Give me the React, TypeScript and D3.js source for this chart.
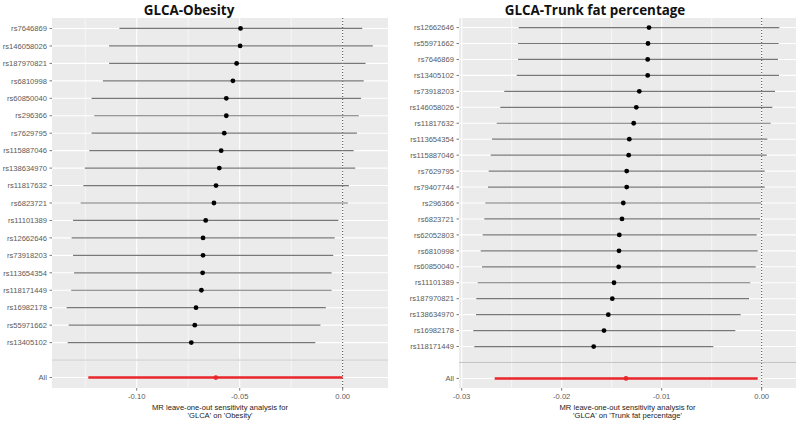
import React from "react";
import * as d3 from "d3";

// ---------- Data: left panel (GLCA-Obesity) ----------
const obesitySnps = [
  "rs7646869", "rs146058026", "rs187970821", "rs6810998", "rs60850040", "rs296366",
  "rs7629795", "rs115887046", "rs138634970", "rs11817632", "rs6823721", "rs11101389",
  "rs12662646", "rs73918203", "rs113654354", "rs118171449", "rs16982178", "rs55971662",
  "rs13405102",
];
const obesityB = [
  -0.0496, -0.0498, -0.0515, -0.0533, -0.0565, -0.0565, -0.0575, -0.0590, -0.0599, -0.0615,
  -0.0625, -0.0665, -0.0678, -0.0678, -0.0680, -0.0686, -0.0712, -0.0718, -0.0735,
];
const obesityLo = [
  -0.1084, -0.1134, -0.1134, -0.1164, -0.1219, -0.1206, -0.1219, -0.1230, -0.1252, -0.1259,
  -0.1272, -0.1309, -0.1316, -0.1309, -0.1304, -0.1318, -0.1340, -0.1330, -0.1335,
];
const obesityHi = [
  0.0095, 0.0146, 0.0111, 0.0102, 0.0089, 0.0078, 0.0069, 0.0053, 0.0061, 0.0030,
  0.0025, -0.0021, -0.0039, -0.0046, -0.0054, -0.0054, -0.0082, -0.0108, -0.0133,
];
const obesityAll = { b: -0.0616, lo: -0.1235, hi: 0.0 };
const obesityTicks = [-0.1, -0.05, 0.0];
const obesityTickLabels = ["-0.10", "-0.05", "0.00"];
const obesityMinor = [-0.125, -0.075, -0.025];

// ---------- Data: right panel (GLCA-Trunk fat percentage) ----------
const trunkSnps = [
  "rs12662646", "rs55971662", "rs7646869", "rs13405102", "rs73918203", "rs146058026",
  "rs11817632", "rs113654354", "rs115887046", "rs7629795", "rs79407744", "rs296366",
  "rs6823721", "rs62052803", "rs6810998", "rs60850040", "rs11101389", "rs187970821",
  "rs138634970", "rs16982178", "rs118171449",
];
const trunkB = [
  -0.01127, -0.01137, -0.0114, -0.0114, -0.01224, -0.01254, -0.0128, -0.01324, -0.0133,
  -0.0135, -0.0135, -0.01384, -0.01397, -0.01424, -0.01427, -0.0143, -0.01477, -0.01494,
  -0.01534, -0.01577, -0.0168,
];
const trunkLo = [
  -0.0243, -0.02437, -0.02437, -0.0245, -0.02574, -0.02614, -0.0265, -0.02697, -0.0271,
  -0.0273, -0.02737, -0.02764, -0.02774, -0.0279, -0.0281, -0.02797, -0.0284, -0.02854,
  -0.02857, -0.02884, -0.02874,
];
const trunkHi = [
  0.00176, 0.0017, 0.00163, 0.00173, 0.00133, 0.00106, 0.0009, 0.00056, 0.0005, 0.0003,
  0.0003, -0.00004, -0.00017, -0.0005, -0.0004, -0.0006, -0.00114, -0.00127, -0.0021,
  -0.00264, -0.00484,
];
const trunkAll = { b: -0.01357, lo: -0.0267, hi: -0.0004 };
const trunkTicks = [-0.03, -0.02, -0.01, 0.0];
const trunkTickLabels = ["-0.03", "-0.02", "-0.01", "0.00"];
const trunkMinor = [-0.025, -0.015, -0.005];

const BLANK = "__blank__";
const ALL = "All";

type PanelProps = {
  title: string;
  titleX: number;
  outcome: string;
  snps: string[];
  b: number[];
  lo: number[];
  hi: number[];
  all: { b: number; lo: number; hi: number };
  ticks: number[];
  tickLabels: string[];
  minor: number[];
  xDomain: [number, number];
  left: number;
  right: number;
};

const TOP = 18;
const BOTTOM = 388;
const FONT = "'Liberation Sans', Arial, sans-serif";
const LABEL_COLOR = "#5a5a5a";

function Panel(p: PanelProps) {
  const x = d3.scaleLinear().domain(p.xDomain).range([p.left, p.right]);
  const domain = [...p.snps, BLANK, ALL];
  const y = d3.scalePoint<string>().domain(domain).range([TOP, BOTTOM]).padding(0.6);
  const cx = (p.left + p.right) / 2;
  return (
    <g>
      <text
        x={p.titleX}
        y={15}
        textAnchor="middle"
        fontFamily="'Open Sans', sans-serif"
        fontWeight="bold"
        fontSize={13.4}
        fill="#111"
      >
        {p.title}
      </text>
      <rect x={p.left} y={TOP} width={p.right - p.left} height={BOTTOM - TOP} fill="#EBEBEB" />
      {p.minor.map((v) => (
        <line key={"mn" + v} x1={x(v)} x2={x(v)} y1={TOP} y2={BOTTOM} stroke="#fff" strokeWidth={0.6} />
      ))}
      {p.ticks.map((v) => (
        <line key={"mj" + v} x1={x(v)} x2={x(v)} y1={TOP} y2={BOTTOM} stroke="#fff" strokeWidth={1.1} />
      ))}
      {domain.map((d) => (
        <line key={"hg" + d} x1={p.left} x2={p.right} y1={y(d)} y2={y(d)} stroke="#fff" strokeWidth={1.1} />
      ))}
      <line x1={p.left} x2={p.right} y1={y(BLANK)} y2={y(BLANK)} stroke="#c4c4c4" strokeWidth={1} />
      <line x1={x(0)} x2={x(0)} y1={TOP} y2={BOTTOM} stroke="#333" strokeWidth={0.9} strokeDasharray="1,2" />
      {p.snps.map((s, i) => (
        <g key={"r" + s}>
          <line x1={x(p.lo[i])} x2={x(p.hi[i])} y1={y(s)} y2={y(s)} stroke="#777" strokeWidth={1.2} />
          <circle cx={x(p.b[i])} cy={y(s)} r={2.4} fill="#000" />
        </g>
      ))}
      <line x1={x(p.all.lo)} x2={x(p.all.hi)} y1={y(ALL)} y2={y(ALL)} stroke="#e8262b" strokeWidth={2.4} />
      <circle cx={x(p.all.b)} cy={y(ALL)} r={2.4} fill="#e8262b" />
      {domain.map((d) =>
        d === BLANK ? null : (
          <g key={"yl" + d}>
            <line x1={p.left - 2.5} x2={p.left} y1={y(d)} y2={y(d)} stroke="#555" strokeWidth={0.8} />
            <text
              x={p.left - 5}
              y={(y(d) as number) + 2.7}
              textAnchor="end"
              fontFamily={FONT}
              fontSize={7.6}
              fill={LABEL_COLOR}
            >
              {d}
            </text>
          </g>
        )
      )}
      {p.ticks.map((v, i) => (
        <g key={"xt" + v}>
          <line x1={x(v)} x2={x(v)} y1={BOTTOM} y2={BOTTOM + 2.7} stroke="#555" strokeWidth={0.8} />
          <text x={x(v)} y={398.5} textAnchor="middle" fontFamily={FONT} fontSize={7.6} fill={LABEL_COLOR}>
            {p.tickLabels[i]}
          </text>
        </g>
      ))}
      <text x={cx} y={409.5} textAnchor="middle" fontFamily={FONT} fontSize={7.6} fill="#222">
        MR leave-one-out sensitivity analysis for
      </text>
      <text x={cx} y={418} textAnchor="middle" fontFamily={FONT} fontSize={7.6} fill="#222">
        {"'GLCA' on '" + p.outcome + "'"}
      </text>
    </g>
  );
}

export default function App() {
  return (
    <svg
      width={800}
      height={421}
      viewBox="0 0 800 421"
      style={{ position: "absolute", left: 0, top: 0, background: "#fff" }}
    >
      <rect x={0} y={0} width={800} height={421} fill="#fff" />
      <Panel
        title="GLCA-Obesity"
        titleX={189}
        outcome="Obesity"
        snps={obesitySnps}
        b={obesityB}
        lo={obesityLo}
        hi={obesityHi}
        all={obesityAll}
        ticks={obesityTicks}
        tickLabels={obesityTickLabels}
        minor={obesityMinor}
        xDomain={[-0.14112, 0.02199]}
        left={52}
        right={388}
      />
      <Panel
        title="GLCA-Trunk fat percentage"
        titleX={595}
        outcome="Trunk fat percentage"
        snps={trunkSnps}
        b={trunkB}
        lo={trunkLo}
        hi={trunkHi}
        all={trunkAll}
        ticks={trunkTicks}
        tickLabels={trunkTickLabels}
        minor={trunkMinor}
        xDomain={[-0.03027, 0.00343]}
        left={459}
        right={796}
      />
    </svg>
  );
}
